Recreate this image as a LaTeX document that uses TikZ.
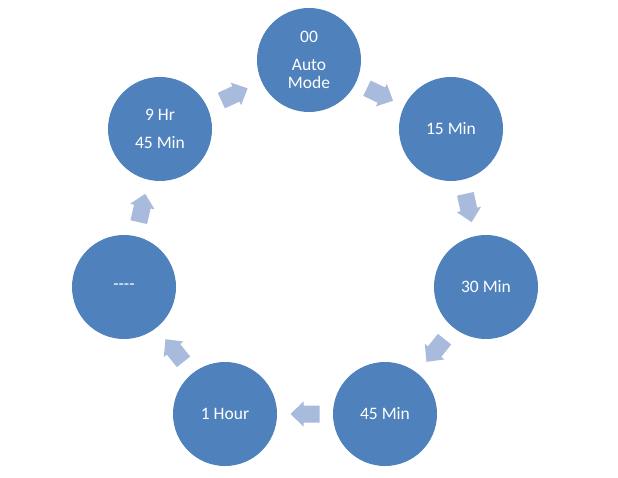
\documentclass[tikz,border=0pt]{standalone}
\usepackage{fontspec}
\setmainfont{Carlito}
\usetikzlibrary{calc}
\definecolor{circblue}{RGB}{79,129,189}
\definecolor{arrblue}{RGB}{168,187,221}
\tikzset{
  statecirc/.style={circle, fill=circblue, minimum size=104pt, inner sep=0pt,
    text=white, font=\fontsize{17.5}{18}\selectfont, align=center},
  blockarrow/.style={fill=arrblue}
}
\newcommand\blockarr[2]{%
  \coordinate (m#1#2) at ($(#1)!0.5!(#2)$);
  \fill[blockarrow] let \p1=(#1), \p2=(#2), \n1={atan2(\y2-\y1,\x2-\x1)} in
    ($(m#1#2)+(\n1:-14.5pt)+(\n1+90:8.5pt)$) --
    ($(m#1#2)+(\n1:1.5pt)+(\n1+90:8.5pt)$) --
    ($(m#1#2)+(\n1:1.5pt)+(\n1+90:12.5pt)$) --
    ($(m#1#2)+(\n1:14.5pt)$) --
    ($(m#1#2)+(\n1:1.5pt)+(\n1-90:12.5pt)$) --
    ($(m#1#2)+(\n1:1.5pt)+(\n1-90:8.5pt)$) --
    ($(m#1#2)+(\n1:-14.5pt)+(\n1-90:8.5pt)$) -- cycle;%
}
\begin{document}
\begin{tikzpicture}[x=1pt,y=1pt]
  \fill[white] (0,0) rectangle (618,477);
  \useasboundingbox (0,0) rectangle (618,477);
  \node[statecirc] (a) at (309,417) {00\\[10pt]Auto\\Mode};
  \node[statecirc] (b) at (451,348) {15 Min};
  \node[statecirc] (c) at (486,190) {30 Min};
  \node[statecirc] (d) at (385,63) {45 Min};
  \node[statecirc] (e) at (225,63) {1 Hour};
  \node[statecirc] (f) at (124,190) {-{}-{}-{}-};
  \node[statecirc] (g) at (160,348) {9 Hr\\[10pt]45 Min};
  \blockarr{a}{b}
  \blockarr{b}{c}
  \blockarr{c}{d}
  \blockarr{d}{e}
  \blockarr{e}{f}
  \blockarr{f}{g}
  \blockarr{g}{a}
\end{tikzpicture}
\end{document}
